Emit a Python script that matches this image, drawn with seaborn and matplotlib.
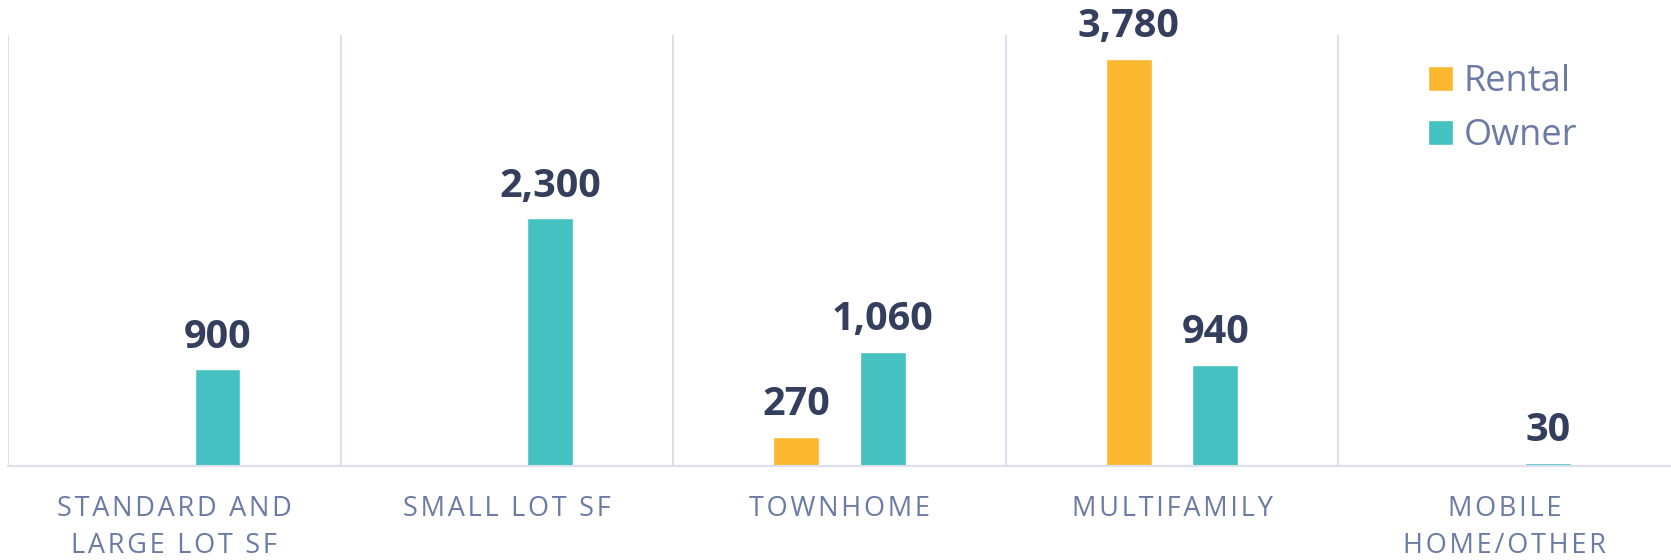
import numpy as np
import pandas as pd
import matplotlib
matplotlib.use("Agg")
import matplotlib.pyplot as plt
import seaborn as sb

categories = ["STANDARD AND\nLARGE LOT SF", "SMALL LOT SF", "TOWNHOME",
              "MULTIFAMILY", "MOBILE\nHOME/OTHER"]
rental = [0, 0, 270, 3780, 0]
owner = [900, 2300, 1060, 940, 30]
series = ["Rental", "Owner"]
colors = ["#FBB82E", "#44C1C0"]

LABEL_COLOR = "#333F5C"
TICK_COLOR = "#6B7BA4"
GRID_COLOR = "#DCDFEC"


def spaced(s):
    # fake letter spacing with hair spaces
    return "\n".join("\u200a".join(line) for line in s.split("\n"))


# long format table for seaborn
df = pd.DataFrame({
    "category": categories * 2,
    "type": [series[0]] * len(categories) + [series[1]] * len(categories),
    "value": rental + owner,
})

sb.set_style("white")
plt.rcParams["font.family"] = ["Open Sans", "DejaVu Sans"]

fig = plt.figure(figsize=(16.71, 5.6), dpi=100)
ax = fig.add_axes([8 / 1671, 94 / 560, 1663 / 1671, 431 / 560])

sb.barplot(data=df, x="category", y="value", hue="type", order=categories,
           hue_order=series, palette=colors, width=0.52, gap=0.47,
           saturation=1, ax=ax)

ax.set_ylim(0, 4000)
ax.set_xlim(-0.5, len(categories) - 0.5)

# value labels, skip the empty bars
for cont in ax.containers:
    labels = ["" if v == 0 else "{:,.0f}".format(v) for v in cont.datavalues]
    ax.bar_label(cont, labels=labels, padding=9, fontsize=28.5,
                 fontweight="bold", color=LABEL_COLOR, clip_on=False)

# separators between categories
for i in range(len(categories)):
    ax.axvline(i - 0.5, color=GRID_COLOR, lw=1.5, zorder=0)

ax.set_yticks([])
ax.set_xticks(range(len(categories)))
ax.set_xticklabels([spaced(c) for c in categories], fontsize=19.5,
                   color=TICK_COLOR, linespacing=1.42)
ax.tick_params(axis="x", length=0, pad=21)
ax.set_xlabel("")
ax.set_ylabel("")

for side in ["top", "right", "left"]:
    ax.spines[side].set_visible(False)
ax.spines["bottom"].set_color(GRID_COLOR)
ax.spines["bottom"].set_linewidth(1.5)

handles, labels = ax.get_legend_handles_labels()
ax.legend(handles, labels, loc="upper left",
          bbox_to_anchor=(1428 / 1671, 1 - 64 / 560),
          bbox_transform=fig.transFigure, frameon=False, fontsize=26,
          labelcolor=TICK_COLOR, handlelength=0.68, handleheight=0.68,
          handletextpad=0.3, labelspacing=0.5, borderpad=0,
          borderaxespad=0)

fig.savefig("out.png", dpi=100)
